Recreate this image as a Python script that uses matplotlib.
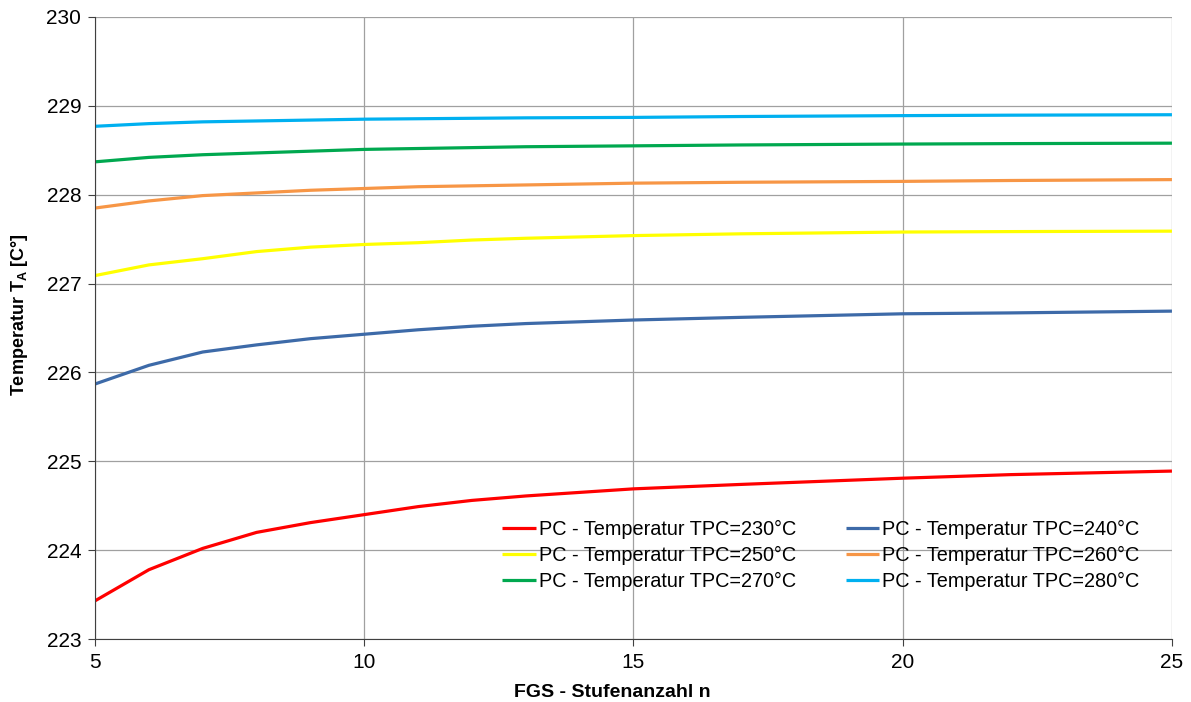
import matplotlib.pyplot as plt

plt.rcParams['font.family'] = ['Liberation Sans', 'DejaVu Sans']

# stage count n
n = [5, 6, 7, 8, 9, 10, 11, 12, 13, 15, 17, 20, 22, 25]

# outlet temperature T_A per PC temperature
t230 = [223.43, 223.78, 224.02, 224.20, 224.31, 224.40, 224.49, 224.56, 224.61, 224.69, 224.74, 224.81, 224.85, 224.89]
t240 = [225.87, 226.08, 226.23, 226.31, 226.38, 226.43, 226.48, 226.52, 226.55, 226.59, 226.62, 226.66, 226.67, 226.69]
t250 = [227.09, 227.21, 227.28, 227.36, 227.41, 227.44, 227.46, 227.49, 227.51, 227.54, 227.56, 227.58, 227.585, 227.59]
t260 = [227.85, 227.93, 227.99, 228.02, 228.05, 228.07, 228.09, 228.10, 228.11, 228.13, 228.14, 228.15, 228.16, 228.17]
t270 = [228.37, 228.42, 228.45, 228.47, 228.49, 228.51, 228.52, 228.53, 228.54, 228.55, 228.56, 228.57, 228.575, 228.58]
t280 = [228.77, 228.80, 228.82, 228.83, 228.84, 228.85, 228.855, 228.86, 228.865, 228.87, 228.88, 228.89, 228.895, 228.90]

labels = ["PC - Temperatur TPC=%d°C" % t for t in (230, 240, 250, 260, 270, 280)]
series = [t230, t240, t250, t260, t270, t280]
colors = ['#ff0000', '#3d6aa8', '#ffff00', '#f79646', '#00a84f', '#00b0f0']

fig = plt.figure(figsize=(11.91, 7.02), dpi=100)
ax = fig.add_axes([0.0798, 0.0897, 0.9042, 0.8861])

lines = []
for ys, c, lab in zip(series, colors, labels):
    ln, = ax.plot(n, ys, color=c, lw=2.3, label=lab, solid_capstyle='butt',
                  solid_joinstyle='round')
    lines.append(ln)

ax.set_xlim(5, 25)
ax.set_ylim(223, 230)
ax.set_xticks([5, 10, 15, 20, 25])
ax.set_yticks(range(223, 231))
ax.grid(True, color='#a0a0a0', lw=0.9)
ax.set_axisbelow(True)
for s in ('top', 'right'):
    ax.spines[s].set_visible(False)
for s in ('left', 'bottom'):
    ax.spines[s].set_color('#404040')
ax.tick_params(direction='out', length=5, color='#404040', labelsize=15, pad=5)

ax.set_xlabel("FGS - Stufenanzahl n", fontsize=14, fontweight='bold', labelpad=9, x=0.48)
ax.set_ylabel("Temperatur T$_\\mathregular{A}$ [C°]", fontsize=13, fontweight='bold', labelpad=12, y=0.521)

order = [0, 2, 4, 1, 3, 5]
ax.legend([lines[i] for i in order], [labels[i] for i in order], ncol=2,
          frameon=False, fontsize=14.3, handlelength=1.7, handletextpad=0.15,
          columnspacing=2.5, labelspacing=0.35, borderaxespad=0,
          loc='lower right', bbox_to_anchor=(0.9774, 0.064))

fig.savefig("out.png", dpi=100)
